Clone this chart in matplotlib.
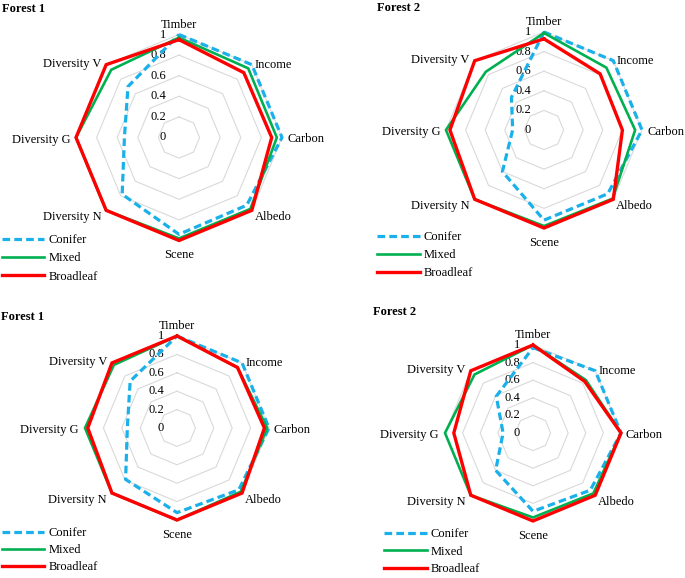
import numpy as np
import matplotlib
matplotlib.use('Agg')
import matplotlib.pyplot as plt

plt.rcParams['font.family'] = 'Liberation Serif'

# axis categories, clockwise from the top
categories = ['Timber', 'Income', 'Carbon', 'Albedo', 'Scene',
              'Diversity N', 'Diversity G', 'Diversity V']
ring_values = [0.2, 0.4, 0.6, 0.8, 1.0]
tick_labels = ['0', '0.2', '0.4', '0.6', '0.8', '1']
series_names = ['Conifer', 'Mixed', 'Broadleaf']
titles = ['Forest 1', 'Forest 2', 'Forest 1', 'Forest 2']

# values (top-left, top-right, bottom-left, bottom-right)
conifer_tl = [1.0, 1.0, 1.0, 0.93, 0.94, 0.78, 0.53, 0.70]
mixed_tl = [0.97, 0.95, 0.95, 0.98, 0.98, 1.0, 1.0, 0.93]
broad_tl = [0.95, 0.89, 0.90, 1.0, 1.0, 1.0, 1.0, 1.0]

conifer_tr = [1.0, 1.0, 1.0, 0.92, 0.92, 0.60, 0.32, 0.47]
mixed_tr = [0.99, 0.90, 0.93, 0.99, 0.98, 1.0, 1.0, 0.84]
broad_tr = [0.93, 0.81, 0.80, 1.0, 1.0, 1.0, 0.96, 1.0]

conifer_bl = [1.0, 1.0, 1.0, 0.95, 0.92, 0.79, 0.54, 0.72]
mixed_bl = [1.0, 0.93, 0.98, 0.98, 1.0, 1.0, 1.0, 0.97]
broad_bl = [1.0, 0.93, 0.95, 1.0, 1.0, 1.0, 0.97, 1.0]

conifer_br = [0.97, 1.0, 1.0, 0.92, 0.89, 0.60, 0.34, 0.59]
mixed_br = [1.0, 0.85, 1.0, 0.97, 0.96, 1.0, 1.0, 0.94]
broad_br = [1.0, 0.83, 1.0, 1.0, 1.0, 1.0, 0.90, 1.0]

panel_data = [
    (conifer_tl, mixed_tl, broad_tl),
    (conifer_tr, mixed_tr, broad_tr),
    (conifer_bl, mixed_bl, broad_bl),
    (conifer_br, mixed_br, broad_br),
]

W, H = 685, 578
# layout in pixels: web centre, radius, title position, legend top-left
centres = [(179, 137.5), (544, 130), (177, 428), (533, 433)]
radii = [103, 98, 92, 88]
title_pos = [(2, 9), (377, 8), (1, 317), (373, 312)]
legend_pos = [(2, 234), (377, 231), (2, 527), (384, 528)]
legend_gap = [0.5, 0.5, 0.42, 0.46]

colors = ['#1ab0ea', '#00b050', '#ff0000']
widths = [2.3, 1.9, 2.4]
styles = [(0, (2.4, 1.3)), '-', '-']

# label offsets in pixels and alignment for each category
lab_off = [(0, 4), (3, 0), (5, -2), (3, -7), (0, -9), (-5, -7), (-6, -2), (-5, 1)]
lab_ha = ['center', 'left', 'left', 'left', 'center', 'right', 'right', 'right']
lab_va = ['bottom', 'center', 'center', 'center', 'top', 'center', 'center', 'center']

fig = plt.figure(figsize=(W / 100, H / 100), dpi=100)

angles = np.linspace(0, 2 * np.pi, len(categories), endpoint=False)
closed = np.append(angles, angles[0])

for i in range(4):
    cx, cy = centres[i]
    R = radii[i]
    ax = fig.add_axes([(cx - R) / W, 1 - (cy + R) / H, 2 * R / W, 2 * R / H],
                      projection='polar')
    ax.set_theta_offset(np.pi / 2)
    ax.set_theta_direction(-1)
    ax.set_ylim(0, 1)
    ax.axis('off')

    # octagonal grid rings
    for rv in ring_values:
        ax.plot(closed, [rv] * len(closed), color='#d9d9d9', lw=0.8,
                clip_on=False, zorder=1)

    # radial tick labels along the Timber axis
    for k, t in enumerate(tick_labels):
        ax.annotate(t, xy=(0, k * 0.2), xytext=(-13, 0),
                    textcoords='offset pixels', ha='right', va='center',
                    fontsize=9, zorder=2)

    for j, vals in enumerate(panel_data[i]):
        v = np.append(vals, vals[0])
        ax.plot(closed, v, color=colors[j], lw=widths[j], ls=styles[j],
                label=series_names[j], clip_on=False, zorder=3 + j,
                solid_joinstyle='miter')

    for k, name in enumerate(categories):
        ax.annotate(name, xy=(angles[k], 1.0), xytext=lab_off[k],
                    textcoords='offset pixels', ha=lab_ha[k], va=lab_va[k],
                    fontsize=9)

    tx, ty = title_pos[i]
    fig.text(tx / W, 1 - ty / H, titles[i], fontsize=9, fontweight='bold',
             ha='left', va='center')

    lx, ly = legend_pos[i]
    ax.legend(loc='upper left', bbox_to_anchor=(lx / W, 1 - ly / H),
              bbox_transform=fig.transFigure, frameon=False, fontsize=9,
              borderpad=0, borderaxespad=0, handlelength=3.4,
              handletextpad=0.35, labelspacing=legend_gap[i])

fig.savefig('out.png', dpi=100)
